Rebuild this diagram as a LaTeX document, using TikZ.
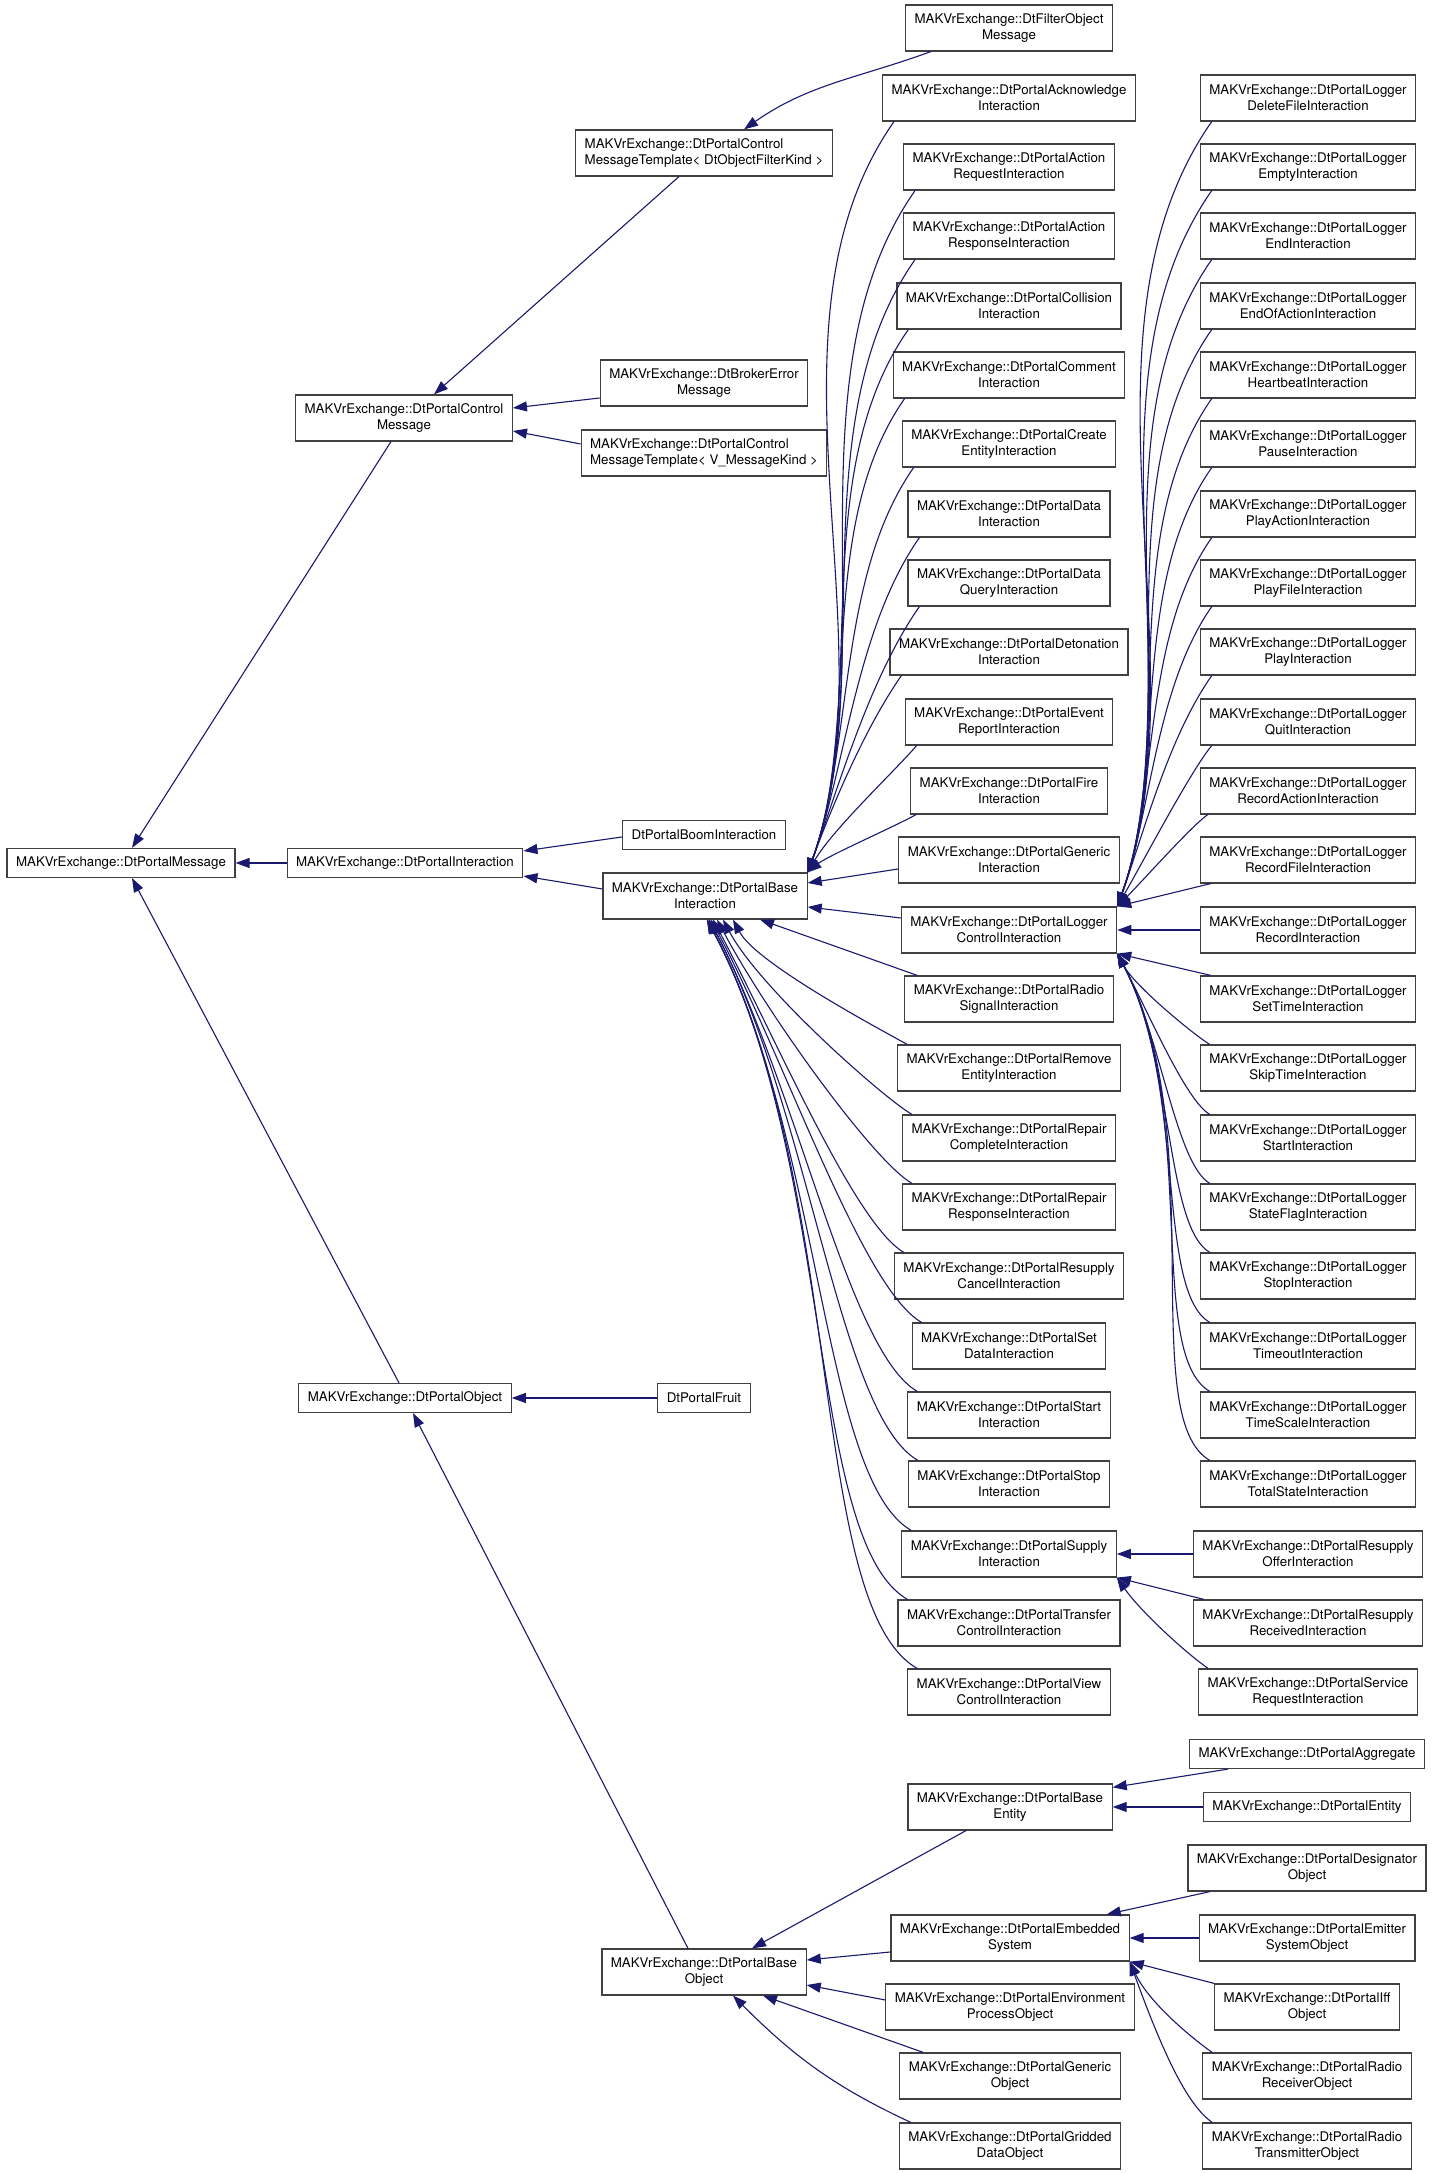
\documentclass[tikz,border=0pt]{standalone}
\usepackage{fontspec}
\setmainfont{TeX Gyre Heros}
\usetikzlibrary{arrows.meta}
\definecolor{edgeblue}{HTML}{191970}
\definecolor{boxgray}{HTML}{404040}

\begin{document}
\begin{tikzpicture}[
		x=1pt, y=1pt,
		every node/.style={rectangle, draw=boxgray, line width=1.2pt, fill=white, align=center, inner xsep=9pt, inner ysep=0pt, minimum height=46pt, font=\fontsize{13.3}{16}\selectfont},
		one line/.style={minimum height=29pt},
		left text/.style={align=left},
		inh/.style={draw=edgeblue, line width=1.1pt, -{Triangle[length=14pt, width=10pt]}}
	]
  \path [use as bounding box, fill=white] (0, 0) rectangle (1435, 2173);

  \node (portal_msg) [one line] at (121, 1310) {MAKVrExchange::DtPortalMessage};
  \node (ctrl_msg) at (404, 1755) {MAKVrExchange::DtPortalControl\\Message};
  \node (portal_inter) [one line] at (405, 1310) {MAKVrExchange::DtPortalInteraction};
  \node (portal_obj) [one line] at (405, 775) {MAKVrExchange::DtPortalObject};

  \node (tmpl_filter) [left text] at (704, 2020) {MAKVrExchange::DtPortalControl\\MessageTemplate\textless{} DtObjectFilterKind \textgreater};
  \node (broker_err) at (704, 1790) {MAKVrExchange::DtBrokerError\\Message};
  \node (tmpl_msg) [left text] at (704, 1720) {MAKVrExchange::DtPortalControl\\MessageTemplate\textless{} V\_MessageKind \textgreater};
  \node (boom) [one line] at (704, 1338) {DtPortalBoomInteraction};
  \node (base_inter) at (705, 1277) {MAKVrExchange::DtPortalBase\\Interaction};
  \node (fruit) [one line] at (704, 775) {DtPortalFruit};
  \node (base_obj) at (704, 201) {MAKVrExchange::DtPortalBase\\Object};

  \node (filter_obj) at (1009, 2145) {MAKVrExchange::DtFilterObject\\Message};
  \node (ack) at (1009, 2075) {MAKVrExchange::DtPortalAcknowledge\\Interaction};
  \node (action_req) at (1009, 2006) {MAKVrExchange::DtPortalAction\\RequestInteraction};
  \node (action_resp) at (1009, 1937) {MAKVrExchange::DtPortalAction\\ResponseInteraction};
  \node (collision) at (1009, 1867) {MAKVrExchange::DtPortalCollision\\Interaction};
  \node (comment) at (1009, 1798) {MAKVrExchange::DtPortalComment\\Interaction};
  \node (create_entity) at (1009, 1729) {MAKVrExchange::DtPortalCreate\\EntityInteraction};
  \node (data) at (1009, 1659) {MAKVrExchange::DtPortalData\\Interaction};
  \node (data_query) at (1009, 1590) {MAKVrExchange::DtPortalData\\QueryInteraction};
  \node (detonation) at (1009, 1521) {MAKVrExchange::DtPortalDetonation\\Interaction};
  \node (event_report) at (1009, 1451) {MAKVrExchange::DtPortalEvent\\ReportInteraction};
  \node (fire) at (1009, 1382) {MAKVrExchange::DtPortalFire\\Interaction};
  \node (generic_inter) at (1009, 1313) {MAKVrExchange::DtPortalGeneric\\Interaction};
  \node (logger_ctrl) at (1009, 1243) {MAKVrExchange::DtPortalLogger\\ControlInteraction};
  \node (radio_signal) at (1009, 1174) {MAKVrExchange::DtPortalRadio\\SignalInteraction};
  \node (remove_entity) at (1009, 1105) {MAKVrExchange::DtPortalRemove\\EntityInteraction};
  \node (repair_complete) at (1009, 1035) {MAKVrExchange::DtPortalRepair\\CompleteInteraction};
  \node (repair_resp) at (1009, 966) {MAKVrExchange::DtPortalRepair\\ResponseInteraction};
  \node (resupply_cancel) at (1009, 897) {MAKVrExchange::DtPortalResupply\\CancelInteraction};
  \node (set_data) at (1009, 827) {MAKVrExchange::DtPortalSet\\DataInteraction};
  \node (start_inter) at (1009, 758) {MAKVrExchange::DtPortalStart\\Interaction};
  \node (stop_inter) at (1009, 689) {MAKVrExchange::DtPortalStop\\Interaction};
  \node (supply) at (1009, 619) {MAKVrExchange::DtPortalSupply\\Interaction};
  \node (transfer) at (1009, 550) {MAKVrExchange::DtPortalTransfer\\ControlInteraction};
  \node (view) at (1009, 481) {MAKVrExchange::DtPortalView\\ControlInteraction};
  \node (base_entity) at (1010, 366) {MAKVrExchange::DtPortalBase\\Entity};
  \node (embedded) at (1010, 235) {MAKVrExchange::DtPortalEmbedded\\System};
  \node (environment) at (1010, 166) {MAKVrExchange::DtPortalEnvironment\\ProcessObject};
  \node (generic_obj) at (1010, 97) {MAKVrExchange::DtPortalGeneric\\Object};
  \node (gridded) at (1010, 27) {MAKVrExchange::DtPortalGridded\\DataObject};

  \node (logger_delete_file) at (1308, 2075) {MAKVrExchange::DtPortalLogger\\DeleteFileInteraction};
  \node (logger_empty) at (1308, 2006) {MAKVrExchange::DtPortalLogger\\EmptyInteraction};
  \node (logger_end) at (1308, 1937) {MAKVrExchange::DtPortalLogger\\EndInteraction};
  \node (logger_end_action) at (1308, 1867) {MAKVrExchange::DtPortalLogger\\EndOfActionInteraction};
  \node (logger_heartbeat) at (1308, 1798) {MAKVrExchange::DtPortalLogger\\HeartbeatInteraction};
  \node (logger_pause) at (1308, 1729) {MAKVrExchange::DtPortalLogger\\PauseInteraction};
  \node (logger_play_action) at (1308, 1659) {MAKVrExchange::DtPortalLogger\\PlayActionInteraction};
  \node (logger_play_file) at (1308, 1590) {MAKVrExchange::DtPortalLogger\\PlayFileInteraction};
  \node (logger_play) at (1308, 1521) {MAKVrExchange::DtPortalLogger\\PlayInteraction};
  \node (logger_quit) at (1308, 1451) {MAKVrExchange::DtPortalLogger\\QuitInteraction};
  \node (logger_record_action) at (1308, 1382) {MAKVrExchange::DtPortalLogger\\RecordActionInteraction};
  \node (logger_record_file) at (1308, 1313) {MAKVrExchange::DtPortalLogger\\RecordFileInteraction};
  \node (logger_record) at (1308, 1243) {MAKVrExchange::DtPortalLogger\\RecordInteraction};
  \node (logger_set_time) at (1308, 1174) {MAKVrExchange::DtPortalLogger\\SetTimeInteraction};
  \node (logger_skip_time) at (1308, 1105) {MAKVrExchange::DtPortalLogger\\SkipTimeInteraction};
  \node (logger_start) at (1308, 1035) {MAKVrExchange::DtPortalLogger\\StartInteraction};
  \node (logger_state_flag) at (1308, 966) {MAKVrExchange::DtPortalLogger\\StateFlagInteraction};
  \node (logger_stop) at (1308, 897) {MAKVrExchange::DtPortalLogger\\StopInteraction};
  \node (logger_timeout) at (1308, 827) {MAKVrExchange::DtPortalLogger\\TimeoutInteraction};
  \node (logger_time_scale) at (1308, 758) {MAKVrExchange::DtPortalLogger\\TimeScaleInteraction};
  \node (logger_total_state) at (1308, 689) {MAKVrExchange::DtPortalLogger\\TotalStateInteraction};
  \node (resupply_offer) at (1308, 619) {MAKVrExchange::DtPortalResupply\\OfferInteraction};
  \node (resupply_recv) at (1308, 550) {MAKVrExchange::DtPortalResupply\\ReceivedInteraction};
  \node (service_req) at (1308, 481) {MAKVrExchange::DtPortalService\\RequestInteraction};
  \node (aggregate) [one line] at (1307, 419) {MAKVrExchange::DtPortalAggregate};
  \node (entity) [one line] at (1307, 366) {MAKVrExchange::DtPortalEntity};
  \node (designator) at (1307, 305) {MAKVrExchange::DtPortalDesignator\\Object};
  \node (emitter) at (1307, 235) {MAKVrExchange::DtPortalEmitter\\SystemObject};
  \node (iff) at (1307, 166) {MAKVrExchange::DtPortalIff\\Object};
  \node (radio_recv) at (1307, 97) {MAKVrExchange::DtPortalRadio\\ReceiverObject};
  \node (radio_tx) at (1307, 27) {MAKVrExchange::DtPortalRadio\\TransmitterObject};

  \draw ([xshift=-13pt]ctrl_msg.south) edge [inh] ([xshift=11pt]portal_msg.north);
  \draw (portal_inter.west) edge [inh] (portal_msg.east);
  \draw ([xshift=-6pt]portal_obj.north) edge [inh] ([xshift=11pt]portal_msg.south);
  \draw ([xshift=-25pt]tmpl_filter.south) edge [inh] ([xshift=30pt]ctrl_msg.north);
  \draw ([yshift=-15pt]broker_err.west) edge [inh] ([yshift=10pt]ctrl_msg.east);
  \draw ([yshift=9pt]tmpl_msg.west) edge [inh] ([yshift=-13pt]ctrl_msg.east);
  \draw ([xshift=26pt]filter_obj.south west) edge [inh, out=200, in=35] ([xshift=40pt]tmpl_filter.north);
  \draw ([yshift=-2pt]boom.west) edge [inh] ([yshift=12pt]portal_inter.east);
  \draw ([yshift=7pt]base_inter.west) edge [inh] ([yshift=-13pt]portal_inter.east);
  \draw (fruit.west) edge [inh] (portal_obj.east);
  \draw ([xshift=-16pt]base_obj.north) edge [inh] ([xshift=8pt]portal_obj.south);

  \draw ([xshift=12pt]ack.south west) edge [inh, out=235, in=70, out distance=250pt, in distance=250pt] (base_inter.north east);
  \draw ([xshift=12pt]action_req.south west) edge [inh, out=235, in=70, out distance=225pt, in distance=225pt] (base_inter.north east);
  \draw ([xshift=12pt]action_resp.south west) edge [inh, out=235, in=70, out distance=203pt, in distance=203pt] (base_inter.north east);
  \draw ([xshift=12pt]collision.south west) edge [inh, out=235, in=70, out distance=180pt, in distance=180pt] (base_inter.north east);
  \draw ([xshift=12pt]comment.south west) edge [inh, out=235, in=70, out distance=157pt, in distance=157pt] (base_inter.north east);
  \draw ([xshift=12pt]create_entity.south west) edge [inh, out=235, in=70, out distance=134pt, in distance=134pt] (base_inter.north east);
  \draw ([xshift=12pt]data.south west) edge [inh, out=235, in=70, out distance=111pt, in distance=111pt] (base_inter.north east);
  \draw ([xshift=12pt]data_query.south west) edge [inh, out=235, in=70, out distance=88pt, in distance=88pt] (base_inter.north east);
  \draw ([xshift=12pt]detonation.south west) edge [inh, out=235, in=70, out distance=65pt, in distance=65pt] (base_inter.north east);
  \draw ([xshift=12pt]event_report.south west) edge [inh, out=230, in=60, out distance=30pt, in distance=50pt] (base_inter.north east);
  \draw ([xshift=6pt]fire.south west) edge [inh, out=210, in=40, out distance=20pt, in distance=25pt] (base_inter.north east);
  \draw ([yshift=-9pt]generic_inter.west) edge [inh] ([yshift=13pt]base_inter.east);
  \draw ([yshift=12pt]logger_ctrl.west) edge [inh] ([yshift=-11pt]base_inter.east);
  \draw ([xshift=13pt]radio_signal.north west) edge [inh] ([xshift=55pt]base_inter.south);
  \draw ([xshift=10pt]remove_entity.north west) edge [inh, out=150, in=-62, out distance=22pt, in distance=51pt] ([xshift=28pt]base_inter.south);
  \draw ([xshift=10pt]repair_complete.north west) edge [inh, out=150, in=-62, out distance=33pt, in distance=78pt] ([xshift=18pt]base_inter.south);
  \draw ([xshift=10pt]repair_resp.north west) edge [inh, out=150, in=-62, out distance=45pt, in distance=106pt] ([xshift=12pt]base_inter.south);
  \draw ([xshift=10pt]resupply_cancel.north west) edge [inh, out=150, in=-62, out distance=57pt, in distance=134pt] ([xshift=8pt]base_inter.south);
  \draw ([xshift=10pt]set_data.north west) edge [inh, out=150, in=-62, out distance=69pt, in distance=162pt] ([xshift=6pt]base_inter.south);
  \draw ([xshift=10pt]start_inter.north west) edge [inh, out=150, in=-62, out distance=80pt, in distance=189pt] ([xshift=4pt]base_inter.south);
  \draw ([xshift=10pt]stop_inter.north west) edge [inh, out=150, in=-62, out distance=92pt, in distance=217pt] ([xshift=4pt]base_inter.south);
  \draw ([xshift=10pt]supply.north west) edge [inh, out=150, in=-62, out distance=104pt, in distance=245pt] ([xshift=2pt]base_inter.south);
  \draw ([xshift=10pt]transfer.north west) edge [inh, out=150, in=-62, out distance=116pt, in distance=272pt] ([xshift=2pt]base_inter.south);
  \draw ([xshift=10pt]view.north west) edge [inh, out=150, in=-62, out distance=128pt, in distance=300pt] ([xshift=2pt]base_inter.south);

  \draw ([xshift=12pt]logger_delete_file.south west) edge [inh, out=235, in=70, out distance=259pt, in distance=259pt] (logger_ctrl.north east);
  \draw ([xshift=12pt]logger_empty.south west) edge [inh, out=235, in=70, out distance=237pt, in distance=237pt] (logger_ctrl.north east);
  \draw ([xshift=12pt]logger_end.south west) edge [inh, out=235, in=70, out distance=214pt, in distance=214pt] (logger_ctrl.north east);
  \draw ([xshift=12pt]logger_end_action.south west) edge [inh, out=235, in=70, out distance=191pt, in distance=191pt] (logger_ctrl.north east);
  \draw ([xshift=12pt]logger_heartbeat.south west) edge [inh, out=235, in=70, out distance=168pt, in distance=168pt] (logger_ctrl.north east);
  \draw ([xshift=12pt]logger_pause.south west) edge [inh, out=235, in=70, out distance=145pt, in distance=145pt] (logger_ctrl.north east);
  \draw ([xshift=12pt]logger_play_action.south west) edge [inh, out=235, in=70, out distance=122pt, in distance=122pt] (logger_ctrl.north east);
  \draw ([xshift=12pt]logger_play_file.south west) edge [inh, out=235, in=70, out distance=99pt, in distance=99pt] (logger_ctrl.north east);
  \draw ([xshift=12pt]logger_play.south west) edge [inh, out=235, in=70, out distance=77pt, in distance=77pt] (logger_ctrl.north east);
  \draw ([xshift=12pt]logger_quit.south west) edge [inh, out=230, in=60, out distance=32pt, in distance=55pt] (logger_ctrl.north east);
  \draw ([xshift=8pt]logger_record_action.south west) edge [inh, out=215, in=45, out distance=20pt, in distance=35pt] (logger_ctrl.north east);
  \draw ([xshift=11pt]logger_record_file.south west) edge [inh] (logger_ctrl.north east);
  \draw (logger_record.west) edge [inh] (logger_ctrl.east);
  \draw ([xshift=11pt]logger_set_time.north west) edge [inh] (logger_ctrl.south east);
  \draw ([xshift=10pt]logger_skip_time.north west) edge [inh, out=150, in=-62, out distance=16pt, in distance=37pt] (logger_ctrl.south east);
  \draw ([xshift=10pt]logger_start.north west) edge [inh, out=150, in=-62, out distance=28pt, in distance=65pt] (logger_ctrl.south east);
  \draw ([xshift=10pt]logger_state_flag.north west) edge [inh, out=150, in=-62, out distance=39pt, in distance=92pt] (logger_ctrl.south east);
  \draw ([xshift=10pt]logger_stop.north west) edge [inh, out=150, in=-62, out distance=51pt, in distance=120pt] (logger_ctrl.south east);
  \draw ([xshift=10pt]logger_timeout.north west) edge [inh, out=150, in=-62, out distance=63pt, in distance=148pt] (logger_ctrl.south east);
  \draw ([xshift=10pt]logger_time_scale.north west) edge [inh, out=150, in=-62, out distance=75pt, in distance=176pt] (logger_ctrl.south east);
  \draw ([xshift=10pt]logger_total_state.north west) edge [inh, out=150, in=-62, out distance=86pt, in distance=203pt] (logger_ctrl.south east);

  \draw (resupply_offer.west) edge [inh] (supply.east);
  \draw ([xshift=11pt]resupply_recv.north west) edge [inh] (supply.south east);
  \draw ([xshift=10pt]service_req.north west) edge [inh, out=145, in=-55, out distance=30pt, in distance=40pt] (supply.south east);

  \draw ([xshift=-79pt]aggregate.south) edge [inh] ([yshift=-4pt]base_entity.north east);
  \draw (entity.west) edge [inh] (base_entity.east);
  \draw ([xshift=-97pt]designator.south) edge [inh] ([xshift=-23pt]embedded.north east);
  \draw (emitter.west) edge [inh] (embedded.east);
  \draw (iff.north west) edge [inh] (embedded.south east);
  \draw ([xshift=10pt]radio_recv.north west) edge [inh, out=145, in=-65, out distance=25pt, in distance=45pt] (embedded.south east);
  \draw ([xshift=10pt]radio_tx.north west) edge [inh, out=145, in=-70, out distance=30pt, in distance=100pt] (embedded.south east);

  \draw ([xshift=-44pt]base_entity.south) edge [inh] ([xshift=48pt]base_obj.north);
  \draw ([yshift=-14pt]embedded.west) edge [inh] ([yshift=12pt]base_obj.east);
  \draw ([yshift=7pt]environment.west) edge [inh] ([yshift=-13pt]base_obj.east);
  \draw ([xshift=24pt]generic_obj.north west) edge [inh] ([xshift=59pt]base_obj.south);
  \draw ([xshift=12pt]gridded.north west) edge [inh, out=155, in=-45] ([xshift=29pt]base_obj.south);
\end{tikzpicture}
\end{document}
